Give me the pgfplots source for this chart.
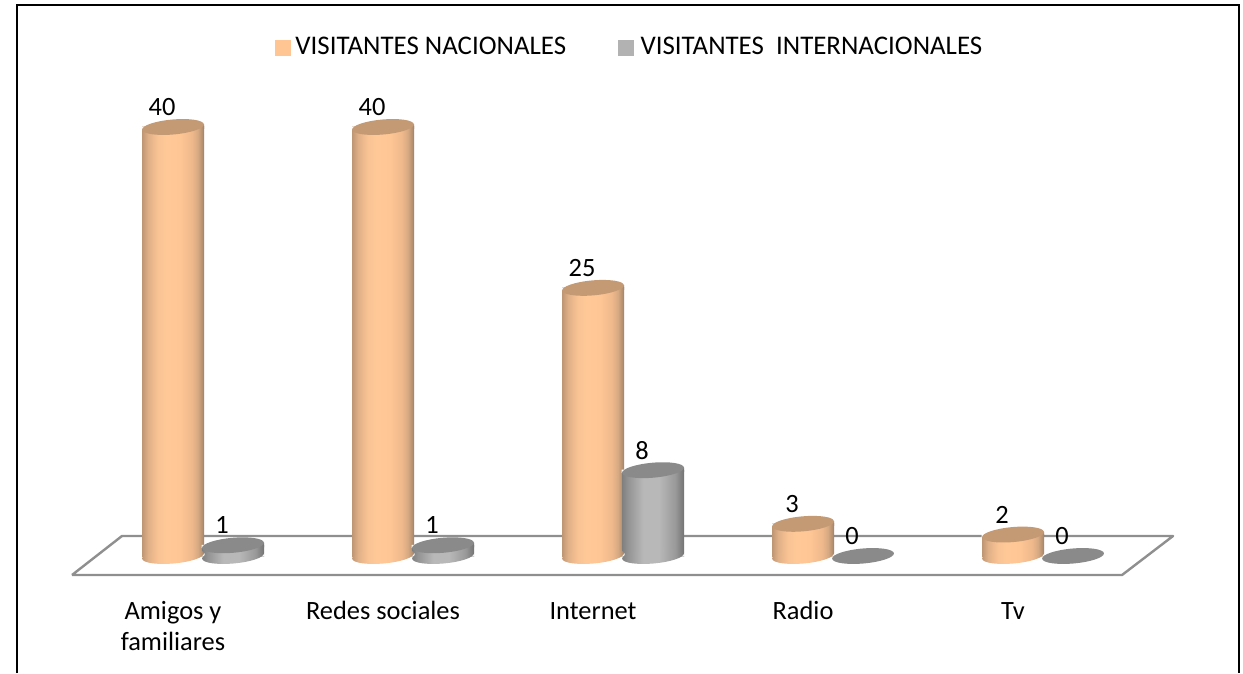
\documentclass[border=0pt]{standalone}
\usepackage{fontspec}
\setmainfont{Carlito}
\usepackage{pgfplots}
\usepackage{pgfplotstable}
\pgfplotsset{compat=1.18}
\definecolor{ozlegend}{HTML}{FFC593}
\definecolor{ozgray}{HTML}{B2B2B2}
\definecolor{oztop}{HTML}{C49A75}
\definecolor{gztop}{HTML}{8A8A8A}
\definecolor{floorc}{HTML}{8F8F8F}
\pgfplotstableread{
x y b
0 40 0
1 40 0
2 25 0
3 3 0
4 2 0
}\nacionales
\pgfplotstableread{
x y b
0.2857 1 0
1.2857 1 0
2.2857 8 0
3.2857 0 0
4.2857 0 0
}\internacionales
\pgfdeclarehorizontalshading{orangecyl}{100bp}{
 rgb(0bp)=(0.745,0.59,0.45);
 rgb(25bp)=(0.745,0.59,0.45);
 rgb(30bp)=(0.88,0.69,0.53);
 rgb(38bp)=(0.98,0.765,0.58);
 rgb(45bp)=(1.00,0.785,0.59);
 rgb(55bp)=(1.00,0.775,0.585);
 rgb(65bp)=(0.94,0.725,0.55);
 rgb(70bp)=(0.84,0.665,0.51);
 rgb(74bp)=(0.685,0.55,0.43);
 rgb(75bp)=(0.59,0.47,0.37);
 rgb(100bp)=(0.59,0.47,0.37)}
\pgfdeclarehorizontalshading{graycyl}{100bp}{
 rgb(0bp)=(0.50,0.50,0.50);
 rgb(25bp)=(0.50,0.50,0.50);
 rgb(30bp)=(0.58,0.58,0.58);
 rgb(42bp)=(0.72,0.72,0.72);
 rgb(55bp)=(0.72,0.72,0.72);
 rgb(68bp)=(0.60,0.60,0.60);
 rgb(75bp)=(0.45,0.45,0.45);
 rgb(100bp)=(0.45,0.45,0.45)}
\newcommand{\tiltell}{\pgfpathellipse{\pgfpointorigin}{\pgfpoint{30.9pt}{2.7pt}}{\pgfpoint{-0.65pt}{7.47pt}}}
\newcommand{\cyltop}[2]{%
  \begin{pgfscope}\pgfsetfillcolor{white}%
  \pgfpathmoveto{\pgfpoint{-31.5pt}{0.5pt}}\pgfpathlineto{\pgfpoint{-24pt}{0.5pt}}\pgfpathlineto{\pgfpoint{-31.5pt}{-2.7pt}}\pgfpathclose
  \pgfusepath{fill}\end{pgfscope}%
  \begin{pgfscope}%
  \pgfpathmoveto{\pgfpoint{-31pt}{-2.7pt}}\pgfpathlineto{\pgfpoint{31pt}{2.7pt}}\pgfpathlineto{\pgfpoint{31pt}{-2pt}}\pgfpathclose
  \pgfshadepath{#1}{0}\pgfusepath{discard}\end{pgfscope}%
  \begin{pgfscope}\pgfsetfillcolor{#2}\tiltell\pgfusepath{fill}\end{pgfscope}}
\newcommand{\cylbot}[1]{%
  \begin{pgfscope}\pgfsetfillcolor{white}%
  \pgfpathmoveto{\pgfpoint{31.5pt}{-0.5pt}}\pgfpathlineto{\pgfpoint{24pt}{-0.5pt}}\pgfpathlineto{\pgfpoint{31.5pt}{2.7pt}}\pgfpathclose
  \pgfusepath{fill}\end{pgfscope}%
  \begin{pgfscope}\tiltell\pgfshadepath{#1}{0}\pgfusepath{discard}\end{pgfscope}}
\pgfdeclareplotmark{otop}{\cyltop{orangecyl}{oztop}}
\pgfdeclareplotmark{gtop}{\cyltop{graycyl}{gztop}}
\pgfdeclareplotmark{obot}{\cylbot{orangecyl}}
\pgfdeclareplotmark{gbot}{\cylbot{graycyl}}
\pgfdeclareplotmark{gzero}{\begin{pgfscope}\pgfsetfillcolor{gztop}\tiltell\pgfusepath{fill}\end{pgfscope}}
\pgfplotsset{
  cylo/.style={ybar,bar width=62pt,bar shift=0pt,draw=none,shade,shading=orangecyl,forget plot},
  cylg/.style={ybar,bar width=62pt,bar shift=0pt,draw=none,shade,shading=graycyl,forget plot},
  vlab/.style={forget plot,only marks,mark=none,nodes near coords,
    every node near coord/.style={anchor=center,xshift=-11pt,yshift=20pt,black}},
}
\begin{document}
\fontsize{26.4}{31}\selectfont
\begin{tikzpicture}[x=1pt,y=1pt]
\path[use as bounding box] (0,0) rectangle (1243,673);
\begin{axis}[
  at={(0pt,83pt)}, anchor=south west,
  scale only axis, width=1243pt, height=590pt,
  xmin=-0.8238, xmax=5.0952, ymin=-3.170, ymax=51.841,
  clip=false,
  axis line style={draw=none},
  tick style={draw=none},
  major tick length=0pt,
  xtick={0,1,2,3,4},
  xticklabels={{\strut Amigos y\\familiares},{\strut Redes sociales},{\strut Internet},{\strut Radio},{\strut Tv}},
  xticklabel pos=bottom,
  x tick label style={align=center,anchor=north,yshift=1pt,font=\fontsize{26.4}{31}\selectfont},
  ytick=\empty,
  legend style={at={(rel axis cs:0.2187,0.945)},anchor=north west,draw=none,fill=none,
    font=\fontsize{26.9}{32}\selectfont,
    /tikz/column 1/.style={column sep=3pt},
    /tikz/column 2/.style={column sep=50pt},
    /tikz/column 3/.style={column sep=5pt}},
  legend columns=2,
  legend cell align=left,
  /pgf/number format/assume math mode=true,
]
\addlegendimage{legend image code/.code={\fill[ozlegend] (0pt,-7.5pt) rectangle (15pt,7.5pt);}}
\addlegendentry{VISITANTES NACIONALES}
\addlegendimage{legend image code/.code={\fill[ozgray] (0pt,-7.5pt) rectangle (15pt,7.5pt);}}
\addlegendentry{VISITANTES\ \ INTERNACIONALES}
% frame and floor
\addplot[forget plot,black,line width=1.6pt] coordinates {(-0.743,-10.909) (-0.743,51.375) (5.076,51.375) (5.076,-10.909)};
\addplot[forget plot,floorc,line width=2.4pt,line join=round] coordinates {(-0.481,-1.772) (4.519,-1.772) (4.762,1.865) (-0.243,1.865) (-0.481,-1.772)};
% nacional
\addplot[cylo] coordinates {(0,40)};
\addplot[cylo] coordinates {(1,40)};
\addplot[cylo] coordinates {(2,25)};
\addplot[cylo] coordinates {(3,3)};
\addplot[cylo] coordinates {(4,2)};
\addplot[forget plot,only marks,mark=obot] table[x=x,y=b]{\nacionales};
\addplot[forget plot,only marks,mark=otop] table[x=x,y=y]{\nacionales};
% internacional
\addplot[cylg] coordinates {(0.2857,1)};
\addplot[cylg] coordinates {(1.2857,1)};
\addplot[cylg] coordinates {(2.2857,8)};
\addplot[forget plot,only marks,mark=gbot,skip coords between index={3}{5}] table[x=x,y=b]{\internacionales};
\addplot[forget plot,only marks,mark=gtop,skip coords between index={3}{5}] table[x=x,y=y]{\internacionales};
\addplot[forget plot,only marks,mark=gzero,skip coords between index={0}{3}] table[x=x,y=y]{\internacionales};
% value labels
\addplot[vlab] table[x=x,y=y]{\nacionales};
\addplot[vlab] table[x=x,y=y]{\internacionales};
\end{axis}
\end{tikzpicture}
\end{document}
